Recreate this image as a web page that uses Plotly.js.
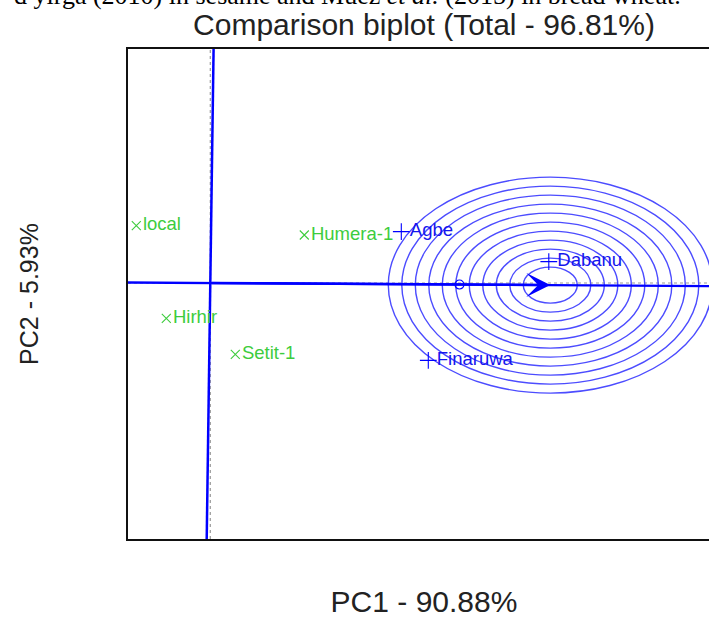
<!DOCTYPE html>
<html><head><meta charset="utf-8">
<script src="https://cdn.plot.ly/plotly-3.0.1.min.js"></script>
<style>html,body{margin:0;padding:0;overflow:hidden;background:#fff}#chart{width:720px;height:618px}</style>
</head><body><div id="chart"></div>
<script>
// ---- data ----
const genotypes = ['local', 'Humera-1', 'Hirhir', 'Setit-1'];
const genoPC1 = [-0.74, 0.94, -0.44, 0.25];
const genoPC2 = [0.86, 0.72, -0.53, -1.07];
const environments = ['Agbe', 'Dabanu', 'Finaruwa'];
const envPC1 = [1.91, 3.385, 2.18];
const envPC2 = [0.77, 0.32, -1.16];
const titleText = 'Comparison biplot (Total - 96.81%)';
const xTitleText = 'PC1 - 90.88%';
const yTitleText = 'PC2 - 5.93%';
const captionText = 'd yirga (2010) in sesame and Muez <i>et al.</i> (2015) in bread wheat.';

// ---- construction settings ----
const ringStep = 0.135, ringFirst = 2, ringLast = 12;
const xRange = [-0.823, 5.097], yRange = [-3.84, 3.51];
const green = '#3dcc3d', blue = '#0000ff', blueText = '#1515ee';

// ---- derived biplot geometry ----
const mean = a => a.reduce((s, v) => s + v, 0) / a.length;
const med1 = mean(envPC1), med2 = mean(envPC2);
const slope = med2 / med1;
const mod = Math.max(...envPC1.map((x, i) => Math.hypot(x, envPC2[i])));
const idealX = Math.sign(med1) * mod / Math.sqrt(1 + slope * slope);
const idealY = slope * idealX;

const aeaX = [xRange[0] - 1, xRange[1] + 1];
const aeaY = aeaX.map(x => slope * x);
const perpY = [yRange[0] - 1, yRange[1] + 1];
const perpX = perpY.map(y => -slope * y);

const shapes = [
  {type: 'line', xref: 'x', yref: 'paper', x0: 0, x1: 0, y0: 0, y1: 1, layer: 'below',
   line: {color: '#9a9a9a', width: 1.2, dash: 'dot'}},
  {type: 'line', xref: 'paper', yref: 'y', x0: 0, x1: 1, y0: 0, y1: 0, layer: 'below',
   line: {color: '#9a9a9a', width: 1.2, dash: 'dot'}}
];
for (let k = ringFirst; k <= ringLast; k++) {
  const r = k * ringStep;
  shapes.push({type: 'circle', xref: 'x', yref: 'y', layer: 'below',
    x0: idealX - r, x1: idealX + r, y0: idealY - r, y1: idealY + r,
    line: {color: '#4c4cff', width: 1.4}, fillcolor: 'rgba(0,0,0,0)'});
}

const font = 'Liberation Sans, Arial, Helvetica, sans-serif';
const traces = [
  {x: aeaX, y: aeaY, mode: 'lines', line: {color: blue, width: 2.3}, hoverinfo: 'skip'},
  {x: perpX, y: perpY, mode: 'lines', line: {color: blue, width: 2.5}, hoverinfo: 'skip'},
  {x: [med1], y: [med2], mode: 'markers', hoverinfo: 'skip',
   marker: {symbol: 'circle-open', size: 9, color: blue, line: {width: 1.1, color: blue}}},
  {x: genoPC1, y: genoPC2, text: genotypes, mode: 'markers+text', textposition: 'middle right',
   textfont: {family: font, size: 18.5, color: green}, cliponaxis: false,
   marker: {symbol: 'x-thin', size: 9, color: green, line: {width: 1.1, color: green}}},
  {x: envPC1, y: envPC2, text: environments, mode: 'markers+text', textposition: 'middle right',
   textfont: {family: font, size: 18.5, color: blueText}, cliponaxis: false,
   marker: {symbol: 'cross-thin', size: 12, color: blue, line: {width: 1.1, color: blue}}}
];

const layout = {
  width: 720, height: 618,
  margin: {l: 128, r: 0, t: 49, b: 79},
  paper_bgcolor: '#fff', plot_bgcolor: '#fff',
  showlegend: false,
  font: {family: font, color: '#222'},
  title: {text: titleText, font: {family: font, size: 30, color: '#222'},
          x: 0.5, xref: 'paper', xanchor: 'center', y: 1 - 24 / 618, yref: 'container', yanchor: 'middle'},
  xaxis: {range: xRange, showgrid: false, zeroline: false, showticklabels: false, ticks: '',
          showline: true, mirror: true, linecolor: '#111', linewidth: 2,
          title: {text: xTitleText, font: {family: font, size: 30, color: '#222'}, standoff: 59}},
  yaxis: {range: yRange, showgrid: false, zeroline: false, showticklabels: false, ticks: '',
          showline: true, mirror: true, linecolor: '#111', linewidth: 2,
          title: {text: yTitleText, font: {family: font, size: 25, color: '#222'}, standoff: 80}},
  shapes: shapes,
  annotations: [
    {x: idealX, y: idealY, ax: 0, ay: 0, xref: 'x', yref: 'y', axref: 'x', ayref: 'y',
     text: '', showarrow: true, arrowhead: 3, arrowsize: 1.6, arrowwidth: 2.5, arrowcolor: blue},
    {text: captionText, xref: 'paper', yref: 'paper', x: (683 - 128) / 592, xanchor: 'right',
     y: 1 + (49 + 5) / 490, yanchor: 'middle', showarrow: false,
     font: {family: 'Liberation Serif, Times New Roman, serif', size: 26, color: '#000'}}
  ],
  hovermode: false
};

Plotly.newPlot('chart', traces, layout, {staticPlot: true, displayModeBar: false});
</script>
</body></html>
